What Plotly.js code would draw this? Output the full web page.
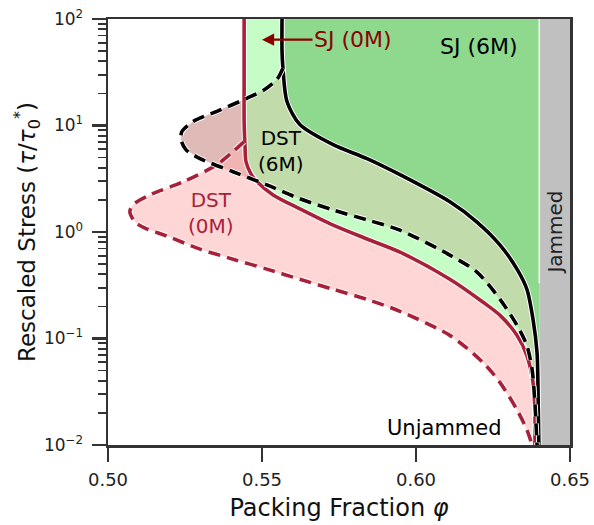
<!DOCTYPE html>
<html><head><meta charset="utf-8">
<script src="https://cdn.plot.ly/plotly-3.0.1.min.js"></script>
<style>html,body{margin:0;padding:0;background:#fff}#chart{width:594px;height:525px}</style>
</head><body><div id="chart"></div>
<script>
// ---- data ----
const phiMin = 0.50, phiMax = 0.65, phiJ = 0.64;
const sigMin = 0.01, sigMax = 100;

// SJ (0M): solid red
const sj0Phi = [0.5442,0.5442,0.5442,0.5445,0.5448,0.5464,0.5484,0.5536,0.5623,0.5731,0.5841,0.5948,0.6110,0.6218,0.6273,0.6328,0.6360,0.6380,0.6386,0.6386];
const sj0Sig = [100,26,10.9,6.3,4.57,3.52,2.96,2.23,1.65,1.16,0.86,0.647,0.36,0.219,0.165,0.107,0.069,0.0385,0.0214,0.01];

// SJ (6M): solid black
const sj6Phi = [0.5565,0.5565,0.5568,0.5581,0.5623,0.5731,0.5841,0.5948,0.6110,0.6198,0.6273,0.6328,0.6360,0.6380,0.6393,0.6396,0.6399];
const sj6Sig = [100,49.9,34.5,16.8,10.2,6.6,4.88,3.45,1.92,1.24,0.754,0.448,0.29,0.151,0.0738,0.036,0.01];

// DST (0M): dashed red
const dst0Phi = [0.5442,0.5406,0.5354,0.5244,0.5136,0.5081,0.5071,0.5088,0.5120,0.5192,0.5299,0.5406,0.5516,0.5623,0.5731,0.5841,0.5948,0.6110,0.6218,0.6273,0.6328,0.6360,0.6377];
const dst0Sig = [7.06,5.69,4.29,2.96,2.23,1.80,1.55,1.24,1.09,0.916,0.69,0.556,0.448,0.36,0.29,0.233,0.18,0.107,0.0594,0.0385,0.0214,0.0139,0.01];

// DST (6M): dashed black
const dst6Phi = [0.5568,0.5549,0.5510,0.5451,0.5354,0.5276,0.5240,0.5237,0.5253,0.5299,0.5406,0.5516,0.5623,0.5731,0.5841,0.5948,0.6110,0.6198,0.6273,0.6328,0.6360,0.6377,0.6386,0.6393];
const dst6Sig = [34.5,27.2,21.9,18.0,13.6,10.9,8.78,7.38,5.94,4.89,3.68,2.77,2.05,1.61,1.30,1.04,0.607,0.42,0.233,0.133,0.0859,0.051,0.0249,0.01];

const xTickVals = [0.50,0.55,0.60,0.65];
const xTickText = ['0.50','0.55','0.60','0.65'];
const yTickVals = [0.01,0.1,1,10,100];
const yTickText = ['10<sup>−2</sup>','10<sup>−1</sup>','10<sup>0</sup>','10<sup>1</sup>','10<sup>2</sup>'];

// ---- colours ----
const RED = '#a8213a', DARKRED = '#8b0000', FRAME = '#333333';
const C_LIGHTGREEN = '#c6fcc6', C_GREEN = '#8fd98f', C_OLIVE = '#c1dcaa',
      C_BROWN = '#e0bab7', C_PINK = 'rgba(255,173,173,0.5)', C_GRAY = '#c0c0c0';

// ---- helpers ----
const L = Math.log10;
function redAt(s){
  const ls = L(s);
  for (let i=0;i<sj0Sig.length-1;i++){
    const a=L(sj0Sig[i]), b=L(sj0Sig[i+1]);
    if ((ls<=a && ls>=b)){ const t=(a-ls)/(a-b||1); return sj0Phi[i]+t*(sj0Phi[i+1]-sj0Phi[i]); }
  }
  return ls > L(sj0Sig[0]) ? sj0Phi[0] : sj0Phi[sj0Phi.length-1];
}
function crossing(i){
  const p0=dst6Phi[i], p1=dst6Phi[i+1], l0=L(dst6Sig[i]), l1=L(dst6Sig[i+1]);
  const f=t=>{const p=p0+t*(p1-p0), s=Math.pow(10,l0+t*(l1-l0)); return p-redAt(s);};
  let a=0,b=1; const fa=f(0);
  for(let k=0;k<40;k++){const m=(a+b)/2; if((f(m)<0)===(fa<0)) a=m; else b=m;}
  const t=(a+b)/2; return [p0+t*(p1-p0), Math.pow(10,l0+t*(l1-l0))];
}
const leftX=[], leftY=[];
let crTop=null, crBot=null;
for (let i=0;i<dst6Phi.length;i++){
  const inside = dst6Phi[i] < redAt(dst6Sig[i]);
  if (i>0){
    const prevIn = dst6Phi[i-1] < redAt(dst6Sig[i-1]);
    if (!prevIn && inside){ crTop=crossing(i-1); leftX.push(crTop[0]); leftY.push(crTop[1]); }
    if (prevIn && !inside){ crBot=crossing(i-1); leftX.push(crBot[0]); leftY.push(crBot[1]); }
  }
  if (inside){ leftX.push(dst6Phi[i]); leftY.push(dst6Sig[i]); }
}
for (let i=sj0Sig.length-1;i>=0;i--){
  if (sj0Sig[i] > crBot[1] && sj0Sig[i] < crTop[1]){ leftX.push(sj0Phi[i]); leftY.push(sj0Sig[i]); }
}
leftX.push(crTop[0]); leftY.push(crTop[1]);

function poly(x,y,color){
  return {x:x,y:y,mode:'lines',fill:'toself',fillcolor:color,line:{width:0},hoverinfo:'skip',showlegend:false,type:'scatter'};
}
function rev(a){return a.slice().reverse();}

const traces = [];
traces.push(poly([phiJ,phiMax,phiMax,phiJ],[sigMin,sigMin,sigMax,sigMax],C_GRAY));
traces.push(poly(sj0Phi.concat([phiJ,phiJ]), sj0Sig.concat([sigMin,sigMax]), C_LIGHTGREEN));
traces.push(poly(sj6Phi.concat([phiJ,phiJ]), sj6Sig.concat([sigMin,sigMax]), C_GREEN));
const i6 = sj6Sig.indexOf(dst6Sig[0]);
traces.push(poly(dst6Phi.concat(rev(sj6Phi.slice(i6))), dst6Sig.concat(rev(sj6Sig.slice(i6))), C_OLIVE));
traces.push(poly(leftX,leftY,C_BROWN));
const i0 = sj0Sig.findIndex(s=>s<dst0Sig[0]);
traces.push(poly(dst0Phi.concat(rev(sj0Phi.slice(i0))), dst0Sig.concat(rev(sj0Sig.slice(i0))), C_PINK));
traces.push({x:[phiJ,phiJ],y:[sigMax,0.33],mode:'lines',line:{color:'#fff',width:1.2},hoverinfo:'skip',showlegend:false,type:'scatter'});

function curve(x,y,color,dash){
  const sh={shape:'spline',smoothing:0.8};
  traces.push({x:x,y:y,mode:'lines',line:Object.assign({color:'#fff',width:5.5,dash:dash?'12px,7px':'solid'},sh),hoverinfo:'skip',showlegend:false,type:'scatter'});
  traces.push({x:x,y:y,mode:'lines',line:Object.assign({color:color,width:3.6,dash:dash?'12px,7px':'solid'},sh),hoverinfo:'skip',showlegend:false,type:'scatter'});
}
curve(sj0Phi,sj0Sig,RED,false);
curve(dst0Phi,dst0Sig,RED,true);
curve(sj6Phi,sj6Sig,'#000',false);
curve(dst6Phi,dst6Sig,'#000',true);

const minorVals=[];
for (let e=-2;e<2;e++) for (let d=2;d<=9;d++) minorVals.push(d*Math.pow(10,e));

const FONT='DejaVu Sans';
const layout = {
  width:594, height:525,
  margin:{l:108,r:24,t:19,b:80},
  paper_bgcolor:'#fff', plot_bgcolor:'#fff',
  showlegend:false,
  font:{family:FONT,color:'#222'},
  xaxis:{range:[phiMin,phiMax], tickvals:xTickVals, ticktext:xTickText, ticks:'outside', ticklen:14, tickwidth:2.5, tickcolor:FRAME,
         ticklabelstandoff:3,
         showline:true, linecolor:FRAME, linewidth:2.5, mirror:true, showgrid:false, zeroline:false,
         tickfont:{size:18,family:FONT,color:'#222'},
         title:{text:'Packing Fraction <i>φ</i>', font:{size:24,family:FONT,color:'#111'}, standoff:10}},
  yaxis:{type:'log', range:[L(sigMin),L(sigMax)], tickvals:yTickVals, ticktext:yTickText, ticks:'outside', ticklen:14, tickwidth:2.5, tickcolor:FRAME,
         ticklabelstandoff:5,
         minor:{tickmode:'array', tickvals:minorVals, ticks:'outside', ticklen:8, tickwidth:1.8, tickcolor:FRAME, showgrid:false},
         showline:true, linecolor:FRAME, linewidth:2.5, mirror:true, showgrid:false, zeroline:false,
         tickfont:{size:17,family:FONT,color:'#222'},
         title:{text:'Rescaled Stress (<i>τ</i>/<i>τ</i><sub>0</sub><sup>*</sup>)', font:{size:23,family:FONT,color:'#111'}, standoff:2}},
  annotations:[
    {x:0.55, y:L(64), xref:'x', yref:'y', text:'SJ (0M)', showarrow:true, ax:91, ay:0, arrowcolor:DARKRED, arrowwidth:2.2, arrowhead:2, arrowsize:1.1,
     font:{size:22,family:FONT,color:DARKRED}},
    {x:0.6206, y:L(55), xref:'x', yref:'y', text:'SJ (6M)', showarrow:false, font:{size:22,family:FONT,color:'#000'}},
    {x:0.5562, y:L(5.8), xref:'x', yref:'y', text:'DST<br>(6M)', showarrow:false, font:{size:20,family:FONT,color:'#000'}},
    {x:0.5334, y:L(1.5), xref:'x', yref:'y', text:'DST<br>(0M)', showarrow:false, font:{size:20,family:FONT,color:RED}},
    {x:0.6093, y:L(0.0146), xref:'x', yref:'y', text:'Unjammed', showarrow:false, font:{size:21,family:FONT,color:'#000'}},
    {x:0.6451, y:L(0.985), xref:'x', yref:'y', text:'Jammed', textangle:-90, showarrow:false, font:{size:20,family:FONT,color:'#222'}}
  ]
};
Plotly.newPlot('chart', traces, layout, {displayModeBar:false, staticPlot:true});
</script></body></html>
